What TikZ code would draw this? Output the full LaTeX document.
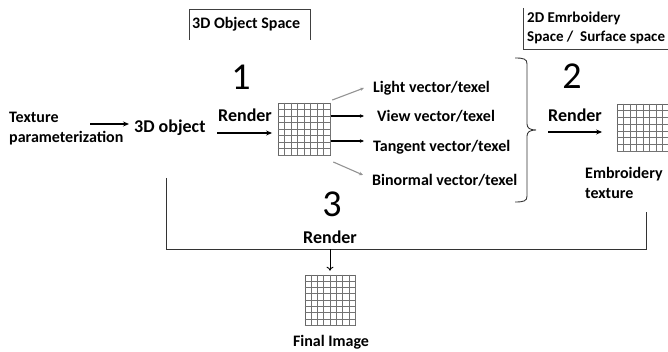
\documentclass[tikz,border=0pt]{standalone}
\usepackage{fontspec}
\setmainfont{Carlito}
\usetikzlibrary{calc,arrows.meta}
\begin{document}
\begin{tikzpicture}[x=1pt,y=-1pt,
  lbl/.style={inner sep=0pt,font=\fontsize{16pt}{20pt}\selectfont\bfseries},
  rlbl/.style={inner sep=0pt,font=\fontsize{18pt}{22pt}\selectfont\bfseries},
  num/.style={inner sep=0pt,font=\fontsize{38pt}{40pt}\selectfont},
  mainarrow/.style={line width=1.1pt,-{Stealth[length=6pt,width=5pt]}},
  vecarrow/.style={line width=1.1pt,-{Stealth[length=4pt,width=3.5pt]}},
  grayarrow/.style={vecarrow,draw=gray!85},
  bracket/.style={line width=0.9pt,draw=black!80},
  boxline/.style={line width=0.7pt,draw=black!75},
  gridbox/.style={inner sep=0pt,draw=black!60,line width=0.6pt},
  gl/.style={line width=0.6pt,draw=black!55}]
\useasboundingbox (0,0) rectangle (668,352);

% header boxes
\node[lbl,anchor=west] (osp) at (192,24) {3D Object Space};
\draw[boxline] (189,40) -- (189,9) -- (310,9) -- (310,40);
\node[lbl,anchor=west,align=left,font=\fontsize{15pt}{19pt}\selectfont\bfseries] (esp) at (527,28) {2D Emrboidery\\Space /\ \ Surface space};
\draw[boxline] (523,8) -- (523,49) -- (670,49);

% left part
\node[lbl,anchor=west,align=left] (tex) at (9,129) {Texture\\parameterization};
\coordinate (a1) at (90,124);
\node[rlbl,anchor=west] (obj) at (134,128) {3D object};
\draw[mainarrow] (a1) -- ($(a1 -| obj.west)+(-5,0)$);

\node[num] (n1) at (241,77) {1};
\node[rlbl] (r1) at (245,115) {Render};
\node[gridbox,minimum width=52pt,minimum height=52pt] (g1) at (304,129) {};
\coordinate (r1s) at (217,133);
\draw[mainarrow] (r1s) -- (r1s -| r1.east);

% vectors
\node[lbl,anchor=west] (lt) at (373,88) {Light vector/texel};
\node[lbl,anchor=west] (vw) at (377,116) {View vector/texel};
\node[lbl,anchor=west] (tg) at (373,147) {Tangent vector/texel};
\node[lbl,anchor=west] (bn) at (372,180) {Binormal vector/texel};
\draw[grayarrow] ($(g1.east)+(2,-29)$) -- ($(lt.west)+(-9,0)$);
\draw[vecarrow] ($(g1.east)+(1,-13)$) -- ($(vw.west)+(-13,0)$);
\draw[vecarrow] ($(g1.east)+(1,12)$) -- ($(tg.west)+(-9,-6)$);
\draw[grayarrow] ($(g1.east)+(3,33)$) -- ($(bn.west)+(-9,-5)$);

% brace
\draw[bracket] (515,58) .. controls (524,58) and (527,59) .. (527,64)
  -- (527,124) .. controls (527,128) and (530,130) .. (536,130)
  .. controls (530,130) and (527,132) .. (527,136)
  -- (527,196) .. controls (527,201) and (524,202) .. (515,202);

% right part
\node[num] (n2) at (572,76) {2};
\node[rlbl] (r2) at (575,115) {Render};
\node[gridbox,minimum width=52pt,minimum height=47pt] (g2) at (643,127.5) {};
\coordinate (r2s) at (548,132);
\draw[mainarrow] (r2s) -- (r2s -| r2.east);
\node[lbl,anchor=west,align=left] (emb) at (585,183) {Embroidery\\texture};

% bottom bracket
\coordinate (bl) at (166,178);
\coordinate (br) at (646,212);
\draw[bracket] (bl) -- (166,249) -- (646,249) -- (br);
\node[num] (n3) at (332,204) {3};
\node[rlbl] (r3) at (330,237) {Render};
\node[gridbox,minimum width=50pt,minimum height=50pt] (g3) at (330,300) {};
\coordinate (fa) at (330,249);
\draw[line width=0.9pt,-{To[length=4pt,width=7pt]}] (fa) -- ($(g3.north)+(0,-4)$);
\node[lbl] (fin) at (331,342) {Final Image};

% grids
\foreach \g/\nx/\ny in {g1/8/8,g2/8/7,g3/8/8}{
  \foreach \i in {1,...,\nx}{
    \pgfmathsetmacro\f{\i/\nx}
    \draw[gl] ($(\g.north west)!\f!(\g.north east)$) -- ($(\g.south west)!\f!(\g.south east)$);
  }
  \foreach \j in {1,...,\ny}{
    \pgfmathsetmacro\f{\j/\ny}
    \draw[gl] ($(\g.north west)!\f!(\g.south west)$) -- ($(\g.north east)!\f!(\g.south east)$);
  }
}
\end{tikzpicture}
\end{document}
